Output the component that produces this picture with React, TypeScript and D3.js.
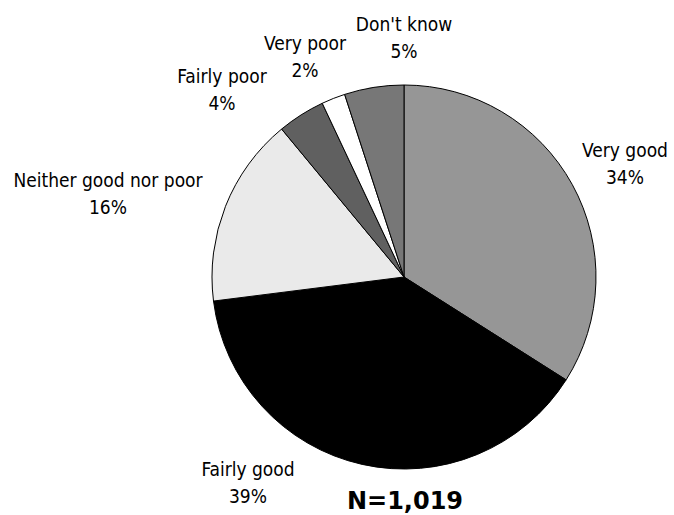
import React from "react";
import * as d3 from "d3";

const categories = ["Very good", "Fairly good", "Neither good nor poor", "Fairly poor", "Very poor", "Don't know"];
const values = [34, 39, 16, 4, 2, 5];
const colors = ["#969696", "#000000", "#eaeaea", "#606060", "#ffffff", "#777777"];
const percentLabels = ["34%", "39%", "16%", "4%", "2%", "5%"];
const sampleNote = "N=1,019";

// label anchor positions (centre x, first-line baseline y)
const labelPos: [number, number][] = [
  [625, 157],
  [248, 476],
  [108, 187],
  [222, 83],
  [305, 50],
  [404, 31],
];

export default function App() {
  const width = 674;
  const height = 515;
  const cx = 404;
  const cy = 277;
  const r = 192;

  const pie = d3.pie<number>().sort(null).value((d) => d);
  const arcs = pie(values);
  const arc = d3.arc<d3.PieArcDatum<number>>().innerRadius(0).outerRadius(r);

  const font = "'DejaVu Sans Condensed', 'DejaVu Sans', sans-serif";

  return (
    <svg
      width={width}
      height={height}
      style={{ position: "absolute", left: 0, top: 0, background: "#fff" }}
    >
      <g transform={`translate(${cx},${cy})`}>
        {arcs.map((a, i) => (
          <path
            key={i}
            d={arc(a) || ""}
            fill={colors[i]}
            stroke="#000"
            strokeWidth={1}
            strokeLinejoin="round"
          />
        ))}
      </g>
      {categories.map((c, i) => (
        <text
          key={c}
          x={labelPos[i][0]}
          y={labelPos[i][1]}
          textAnchor="middle"
          fontFamily={font}
          fontStretch="condensed"
          fontSize={19}
          fill="#000"
        >
          <tspan x={labelPos[i][0]}>{c}</tspan>
          <tspan x={labelPos[i][0]} dy={27}>{percentLabels[i]}</tspan>
        </text>
      ))}
      <text
        x={405}
        y={509}
        textAnchor="middle"
        fontFamily="'DejaVu Sans', sans-serif"
        fontWeight="bold"
        fontSize={24}
        fill="#000"
      >
        {sampleNote}
      </text>
    </svg>
  );
}
